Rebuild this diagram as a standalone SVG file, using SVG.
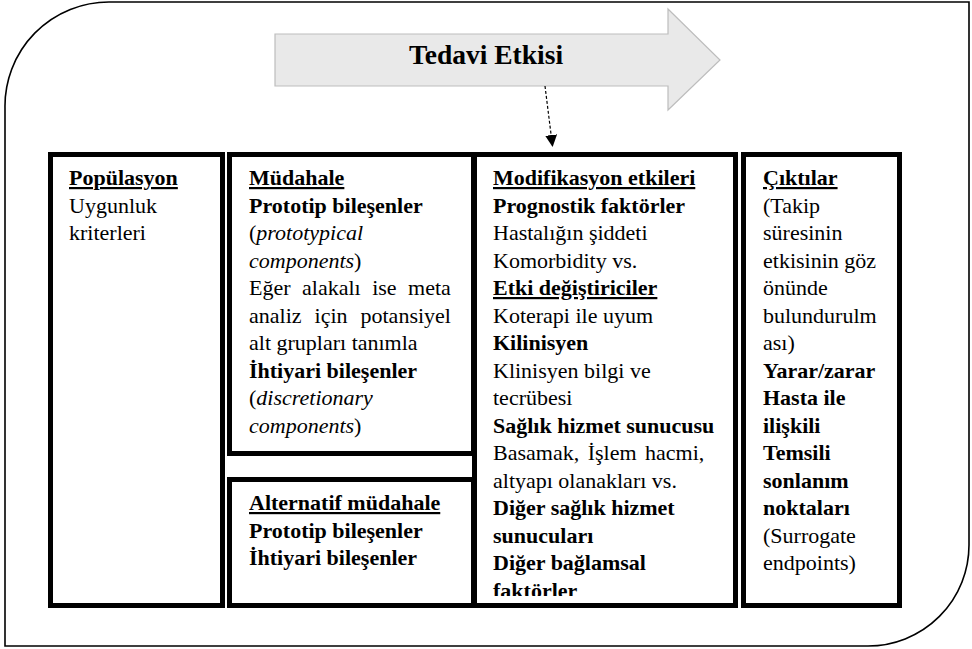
<svg xmlns="http://www.w3.org/2000/svg" width="972" height="649" viewBox="0 0 972 649">
<defs>
<style>
text{font-family:'Liberation Serif','Times New Roman',serif;font-size:22px;fill:#000}
.b{font-weight:bold}
.u{text-decoration:underline}
.i{font-style:italic}
.box{fill:#fff;stroke:#000;stroke-width:5}
</style>
<marker id="ah" markerWidth="12" markerHeight="12" refX="11" refY="6" orient="auto" markerUnits="userSpaceOnUse">
<path d="M0,0 L12,6 L0,12 Z" fill="#000"/>
</marker>
<clipPath id="clipMod"><rect x="477" y="157" width="256" height="439"/></clipPath>
</defs>
<rect width="972" height="649" fill="#fff"/>
<path id="frame" d="M5,646 V108 A104,104 0 0 1 109,2 H969 V545 A101,101 0 0 1 868,646 Z" fill="none" stroke="#000" stroke-width="1.6"/>

<g id="tedavi">
<path d="M275,34 H668 V9 L720,60 L668,110 V86 H275 Z" fill="#e9e9e9" stroke="#bdbdbd" stroke-width="1.2"/>
<text x="486" y="64" text-anchor="middle" class="b" style="font-size:27.5px">Tedavi Etkisi</text>
</g>

<g id="connectors">
<line x1="545" y1="86" x2="552.5" y2="146" stroke="#000" stroke-width="1.2" stroke-dasharray="3,2" marker-end="url(#ah)"/>
</g>

<g id="populasyon">
<rect class="box" x="50.5" y="154.5" width="172" height="451"/>
<text x="69" y="185" class="b u">Popülasyon</text>
<text x="69" y="212.5">Uygunluk</text>
<text x="69" y="240">kriterleri</text>
</g>

<g id="mudahale">
<rect class="box" x="229.5" y="154.5" width="244" height="299"/>
<text x="249" y="185" class="b u">Müdahale</text>
<text x="249" y="212.5" class="b">Prototip bileşenler</text>
<text x="249" y="240">(<tspan class="i">prototypical</tspan></text>
<text x="249" y="267.5"><tspan class="i">components</tspan>)</text>
<text x="249" y="295" word-spacing="6">Eğer alakalı ise meta</text>
<text x="249" y="322.5" word-spacing="7.5">analiz için potansiyel</text>
<text x="249" y="350">alt grupları tanımla</text>
<text x="249" y="377.5" class="b">İhtiyari bileşenler</text>
<text x="249" y="405">(<tspan class="i">discretionary</tspan></text>
<text x="249" y="432.5"><tspan class="i">components</tspan>)</text>
</g>

<g id="alternatif">
<rect class="box" x="229.5" y="479.5" width="244" height="126"/>
<text x="249" y="510" class="b u">Alternatif müdahale</text>
<text x="249" y="537.5" class="b">Prototip bileşenler</text>
<text x="249" y="565" class="b">İhtiyari bileşenler</text>
</g>

<g id="modifikasyon">
<rect class="box" x="474.5" y="154.5" width="261" height="451"/>
<g clip-path="url(#clipMod)">
<text x="493" y="185" class="b u">Modifikasyon etkileri</text>
<text x="493" y="212.5" class="b">Prognostik faktörler</text>
<text x="493" y="240">Hastalığın şiddeti</text>
<text x="493" y="267.5">Komorbidity vs.</text>
<text x="493" y="295" class="b u">Etki değiştiriciler</text>
<text x="493" y="322.5">Koterapi ile uyum</text>
<text x="493" y="350" class="b">Kilinisyen</text>
<text x="493" y="377.5">Klinisyen bilgi ve</text>
<text x="493" y="405">tecrübesi</text>
<text x="493" y="432.5" class="b">Sağlık hizmet sunucusu</text>
<text x="493" y="460" word-spacing="3">Basamak, İşlem hacmi,</text>
<text x="493" y="487.5">altyapı olanakları vs.</text>
<text x="493" y="515" class="b">Diğer sağlık hizmet</text>
<text x="493" y="542.5" class="b">sunucuları</text>
<text x="493" y="570" class="b">Diğer bağlamsal</text>
<text x="493" y="597.5" class="b">faktörler</text>
</g>
</g>

<g id="ciktilar">
<rect class="box" x="743.5" y="154.5" width="156" height="451"/>
<text x="763" y="185" class="b u">Çıktılar</text>
<text x="763" y="212.5">(Takip</text>
<text x="763" y="240">süresinin</text>
<text x="763" y="267.5">etkisinin göz</text>
<text x="763" y="295">önünde</text>
<text x="763" y="322.5">bulundurulm</text>
<text x="763" y="350">ası)</text>
<text x="763" y="377.5" class="b">Yarar/zarar</text>
<text x="763" y="405" class="b">Hasta ile</text>
<text x="763" y="432.5" class="b">ilişkili</text>
<text x="763" y="460" class="b">Temsili</text>
<text x="763" y="487.5" class="b">sonlanım</text>
<text x="763" y="515" class="b">noktaları</text>
<text x="763" y="542.5">(Surrogate</text>
<text x="763" y="570">endpoints)</text>
</g>
</svg>
